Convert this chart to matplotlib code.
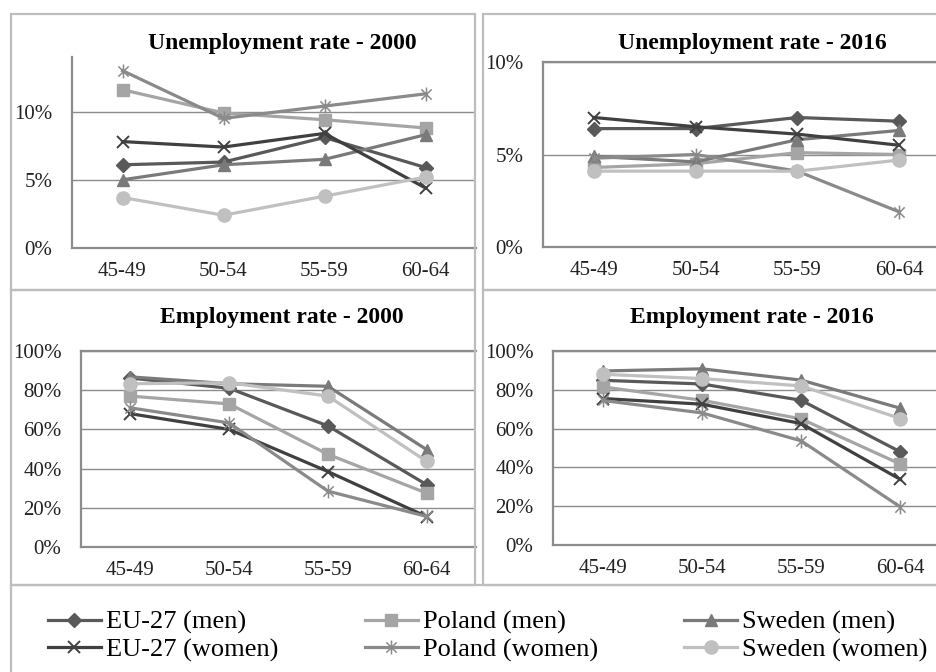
import matplotlib
matplotlib.use("Agg")
import matplotlib.pyplot as plt
from matplotlib.path import Path
from matplotlib.patches import Rectangle
from matplotlib.ticker import PercentFormatter

plt.rcParams['font.family'] = ['Liberation Serif', 'DejaVu Serif']

W, H = 937, 672

ages = ["45-49", "50-54", "55-59", "60-64"]
series = ["EU-27 (men)", "Poland (men)", "Sweden (men)",
          "EU-27 (women)", "Poland (women)", "Sweden (women)"]

# unemployment rate 2000 (%)
unemp_2000 = {
    "EU-27 (men)":    [6.1, 6.3, 8.1, 5.9],
    "Poland (men)":   [11.6, 9.9, 9.4, 8.8],
    "Sweden (men)":   [5.0, 6.1, 6.5, 8.3],
    "EU-27 (women)":  [7.8, 7.4, 8.4, 4.4],
    "Poland (women)": [13.0, 9.5, 10.4, 11.3],
    "Sweden (women)": [3.7, 2.4, 3.8, 5.2],
}
# unemployment rate 2016 (%)
unemp_2016 = {
    "EU-27 (men)":    [6.4, 6.4, 7.0, 6.8],
    "Poland (men)":   [4.3, 4.5, 5.1, 5.0],
    "Sweden (men)":   [4.9, 4.6, 5.8, 6.3],
    "EU-27 (women)":  [7.0, 6.5, 6.1, 5.5],
    "Poland (women)": [4.8, 5.0, 4.1, 1.9],
    "Sweden (women)": [4.1, 4.1, 4.1, 4.7],
}
# employment rate 2000 (%)
emp_2000 = {
    "EU-27 (men)":    [86.2, 81.0, 61.8, 31.8],
    "Poland (men)":   [77.0, 73.0, 47.3, 27.5],
    "Sweden (men)":   [86.8, 83.3, 82.0, 49.7],
    "EU-27 (women)":  [68.0, 60.0, 38.5, 15.5],
    "Poland (women)": [71.0, 63.3, 28.5, 15.6],
    "Sweden (women)": [83.3, 83.8, 77.0, 43.7],
}
# employment rate 2016 (%)
emp_2016 = {
    "EU-27 (men)":    [84.9, 83.0, 74.6, 48.0],
    "Poland (men)":   [81.5, 74.6, 65.0, 41.7],
    "Sweden (men)":   [89.7, 90.8, 85.0, 70.5],
    "EU-27 (women)":  [75.5, 72.6, 62.6, 33.8],
    "Poland (women)": [74.5, 68.1, 53.7, 19.6],
    "Sweden (women)": [88.0, 85.8, 82.0, 65.2],
}

star = Path([(-1, -1), (1, 1), (-1, 1), (1, -1), (0, -1.35), (0, 1.35)],
            [Path.MOVETO, Path.LINETO, Path.MOVETO, Path.LINETO, Path.MOVETO, Path.LINETO])

styles = {
    "EU-27 (men)":    dict(color='#595959', marker='D', ms=7),
    "Poland (men)":   dict(color='#a5a5a5', marker='s', ms=8.5),
    "Sweden (men)":   dict(color='#7a7a7a', marker='^', ms=9),
    "EU-27 (women)":  dict(color='#404040', marker='x', ms=9, mew=1.4),
    "Poland (women)": dict(color='#8a8a8a', marker=star, ms=10, mew=1.1, mfc='none'),
    "Sweden (women)": dict(color='#c0c0c0', marker='o', ms=9.5),
}


def box(x0, y0, x1, y1):
    return [x0 / W, 1 - y1 / H, (x1 - x0) / W, (y1 - y0) / H]


fig = plt.figure(figsize=(W / 100, H / 100), dpi=100)

# chart area frames
frame = '#bdbdbd'
for (x0, y0, x1, y1) in [(11, 14, 475, 290), (483, 14, 945, 290),
                         (11, 290, 475, 585), (483, 290, 945, 585),
                         (11, 585, 945, 680)]:
    fig.patches.append(Rectangle((x0 / W, 1 - y1 / H), (x1 - x0) / W, (y1 - y0) / H,
                                 transform=fig.transFigure, fill=False,
                                 edgecolor=frame, lw=1.6, zorder=0))

panels = [
    (unemp_2000, box(72, 57, 476, 248), 14, [0, 5, 10], "Unemployment rate - 2000", (282, 44), False),
    (unemp_2016, box(543, 62, 950, 247), 10, [0, 5, 10], "Unemployment rate - 2016", (752, 44), True),
    (emp_2000, box(81, 351, 476, 547), 100, range(0, 101, 20), "Employment rate - 2000", (282, 318), True),
    (emp_2016, box(553, 351, 950, 545), 100, range(0, 101, 20), "Employment rate - 2016", (752, 318), True),
]

lines = {}
for i, (data, pos, ymax, yt, title, tpos, topspine) in enumerate(panels):
    ax = fig.add_axes(pos)
    for name in series:
        st = styles[name]
        ln, = ax.plot(ages, data[name], lw=2.3, color=st['color'], marker=st['marker'],
                      ms=st['ms'], mew=st.get('mew', 1), mfc=st.get('mfc', st['color']),
                      mec=st['color'], label=name, clip_on=False, zorder=3)
        lines[name] = ln
    ax.set_xlim(-0.5, 3.5)
    ax.set_ylim(0, ymax)
    ax.set_yticks(list(yt))
    ax.yaxis.set_major_formatter(PercentFormatter(decimals=0))
    ax.grid(axis='y', color='#8c8c8c', lw=1.0)
    ax.set_axisbelow(True)
    for s in ['left', 'bottom', 'top', 'right']:
        ax.spines[s].set_color('#8c8c8c')
        ax.spines[s].set_linewidth(1.6)
    ax.spines['top'].set_visible(topspine)
    # right edges are cut off by the chart frames
    ax.spines['right'].set_visible(False)
    ax.tick_params(length=0, labelsize=15, colors='#222222')
    ax.tick_params(axis='y', pad=14)
    ax.tick_params(axis='x', pad=10)
    fig.text(tpos[0] / W, 1 - tpos[1] / H, title, ha='center', va='center',
             fontsize=17, fontweight='bold', color='black')

order = ["EU-27 (men)", "EU-27 (women)", "Poland (men)", "Poland (women)",
         "Sweden (men)", "Sweden (women)"]
leg = fig.legend([lines[n] for n in order], order, ncol=3, loc='center left',
                 bbox_to_anchor=(48 / W, 1 - 636 / H), frameon=False, fontsize=19,
                 handlelength=2.0, handletextpad=0.2, columnspacing=3.27,
                 labelspacing=0.13, borderaxespad=0, borderpad=0)

fig.savefig("out.png", dpi=100)
